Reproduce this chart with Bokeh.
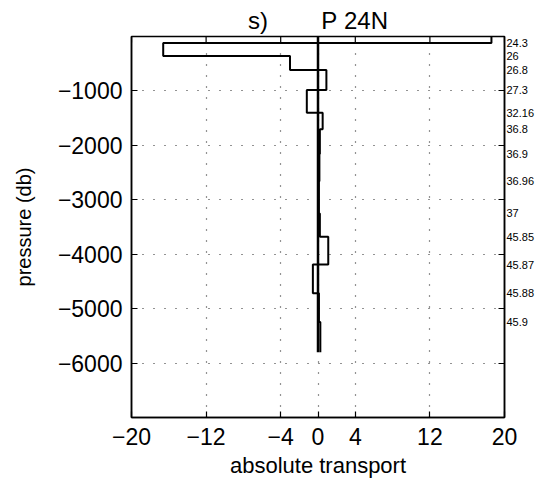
import numpy as np
from bokeh.plotting import figure
from bokeh.models import FixedTicker, Range1d, LinearAxis
from bokeh.embed import file_html
from bokeh.resources import INLINE

# ---- data ----
interfaces = [0, -120, -360, -615, -985, -1400, -1705, -2160, -2660, -3250,
              -3680, -4190, -4715, -5245, -5800]
transport = [18.6, -16.6, -3.0, 0.9, -1.2, 0.5, 0.2, 0.15, 0.1, 0.2,
             1.1, -0.55, 0.1, 0.25]
density_labels = ["24.3", "26", "26.8", "27.3", "32.16", "36.8", "36.9",
                  "36.96", "37", "45.85", "45.87", "45.88", "45.9"]
x_ticks = [-20, -12, -4, 0, 4, 12, 20]
x_tick_labels = ["\u221220", "\u221212", "\u22124", "0", "4", "12", "20"]
y_ticks = [-6000, -5000, -4000, -3000, -2000, -1000]
y_tick_labels = ["\u22126000", "\u22125000", "\u22124000", "\u22123000",
                 "\u22122000", "\u22121000"]
title_text = "s)\u00a0\u00a0\u00a0\u00a0\u00a0\u00a0\u00a0\u00a0P\u00a024N"
x_label = "absolute transport"
y_label = "pressure (db)"

FONT = "Liberation Sans"
X_MIN, X_MAX = -20, 20
Y_MIN, Y_MAX = -7000, 0
FRAME_W, FRAME_H = 373, 381
TICK_PX = 6

# stairs path built from layer values and interfaces
tv = np.array(transport)
pi = np.array(interfaces)
step_x = np.repeat(tv, 2)
step_y = np.column_stack([pi[:-1], pi[1:]]).ravel()

p = figure(frame_width=FRAME_W, frame_height=FRAME_H,
           x_range=Range1d(X_MIN, X_MAX), y_range=Range1d(Y_MIN, Y_MAX),
           output_backend="svg", toolbar_location=None,
           min_border_left=131, min_border_right=38,
           min_border_top=36, min_border_bottom=58)

p.background_fill_color = "white"
p.border_fill_color = "white"
p.outline_line_color = "black"
p.outline_line_width = 1.5

# title
p.title.text = title_text
p.title.align = "center"
p.title.text_font = FONT
p.title.text_font_size = "24px"
p.title.text_font_style = "normal"
p.title.text_color = "black"
p.title.standoff = 6

# bottom axis
xa = p.xaxis[0]
xa.ticker = FixedTicker(ticks=x_ticks)
xa.major_label_overrides = dict(zip(x_ticks, x_tick_labels))
xa.axis_label = x_label

# left axis
ya = p.yaxis[0]
ya.ticker = FixedTicker(ticks=y_ticks)
ya.major_label_overrides = dict(zip(y_ticks, y_tick_labels))
ya.axis_label = y_label

for ax in (xa, ya):
    ax.major_tick_in = TICK_PX
    ax.major_tick_out = 0
    ax.minor_tick_in = 0
    ax.minor_tick_out = 0
    ax.axis_line_color = "black"
    ax.axis_line_width = 1.5
    ax.major_tick_line_color = "black"
    ax.major_tick_line_width = 1.2
    ax.major_label_text_font = FONT
    ax.major_label_text_font_size = "23px"
    ax.major_label_text_color = "black"
    ax.axis_label_text_font = FONT
    ax.axis_label_text_font_style = "normal"
    ax.axis_label_text_color = "black"

xa.major_label_standoff = 10
xa.axis_label_standoff = 5
xa.axis_label_text_font_size = "22px"
ya.major_label_standoff = 9
ya.axis_label_standoff = 20
ya.axis_label_text_font_size = "20px"

# right axis: density labels at layer interfaces, inward ticks at thousands
right = LinearAxis(ticker=FixedTicker(ticks=interfaces[1:-1], minor_ticks=y_ticks))
right.major_label_overrides = dict(zip(interfaces[1:-1], density_labels))
right.major_tick_in = 0
right.major_tick_out = 0
right.minor_tick_in = TICK_PX
right.minor_tick_out = 0
right.minor_tick_line_color = "black"
right.minor_tick_line_width = 1.2
right.axis_line_color = "black"
right.axis_line_width = 1.5
right.major_label_standoff = 2
right.major_label_text_font = FONT
right.major_label_text_font_size = "11px"
right.major_label_text_color = "black"
p.add_layout(right, "right")

# inward tick marks on the top border (same x ticks)
tick_len = (Y_MAX - Y_MIN) * TICK_PX / FRAME_H
p.segment(x0=x_ticks, y0=[Y_MAX] * len(x_ticks),
          x1=x_ticks, y1=[Y_MAX - tick_len] * len(x_ticks),
          line_color="black", line_width=1.2)

# dotted grid
p.xgrid.ticker = FixedTicker(ticks=x_ticks)
p.ygrid.ticker = FixedTicker(ticks=y_ticks)
p.grid.grid_line_color = "black"
p.grid.grid_line_alpha = 0.85
p.grid.grid_line_width = 1.2
p.grid.grid_line_dash = "1 10"

# zero line over the profile depth and the stairs profile
p.segment(x0=[0], y0=[interfaces[0]], x1=[0], y1=[interfaces[-1]],
          line_color="black", line_width=2.5)
p.line(step_x, step_y, line_color="black", line_width=2)

open("out.html", "w").write(file_html(p, INLINE))
